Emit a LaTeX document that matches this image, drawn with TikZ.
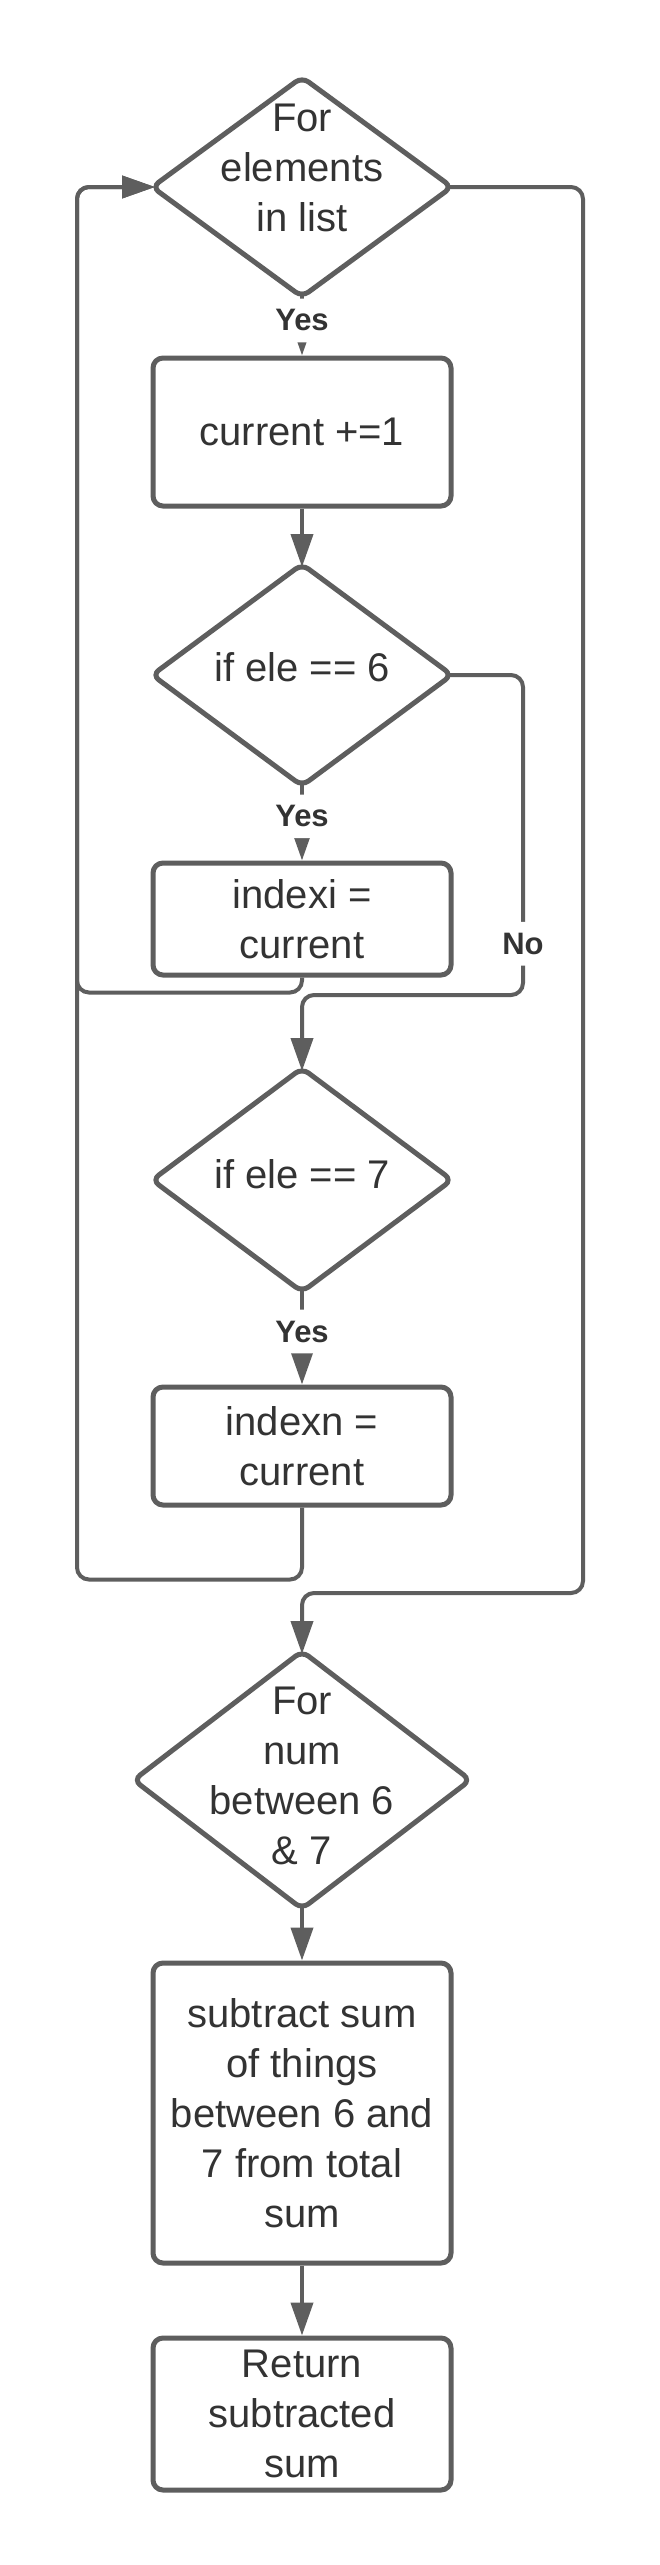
\documentclass[tikz,border=0pt]{standalone}
\usepackage{fontspec}
\setmainfont{Liberation Sans}
\usepackage{tikz}
\usetikzlibrary{shapes.geometric}
\usetikzlibrary{arrows.meta}
\definecolor{linegray}{HTML}{5E5E5E}
\definecolor{textgray}{HTML}{333333}

\begin{document}
\begin{tikzpicture}[x=1pt, y=-1pt,
    decision/.style={diamond, draw=linegray, line width=5pt, rounded corners=8pt,
        inner sep=0pt, outer sep=-2pt, minimum width=298pt},
    process/.style={rectangle, draw=linegray, line width=5pt, rounded corners=10pt,
        minimum width=298pt, inner sep=0pt, align=center, text=textgray,
        font=\fontsize{40}{50}\selectfont},
    dtext/.style={align=center, inner sep=0pt, text=textgray,
        font=\fontsize{40}{50}\selectfont},
    flow/.style={draw=linegray, line width=4pt, rounded corners=12pt,
        -{Triangle[length=33pt, width=22pt]}},
    lbl/.style={fill=white, inner xsep=4pt, inner ysep=11pt, text=textgray,
        font=\bfseries\fontsize{31}{36}\selectfont}]

                  % Page
                  \fill[white] (0,0) rectangle (660,2565);
                  \useasboundingbox (0,0) rectangle (660,2565);

                  % Define coordinates
                  \coordinate (railL) at (77,187);
                  \coordinate (noTurn) at (523,995);
                  \coordinate (exitTurn) at (583,1593);

                  % Draw the shapes
                  \node[decision, minimum height=218pt] (loop) at (302,187) {};
                  \node[dtext] (loopText) at (302,168) {For\\elements\\in list};
                  \node[process, minimum height=148pt] (incr) at (302,432) {current +=1};
                  \node[decision, minimum height=220pt] (isSix) at (302,675) {};
                  \node[dtext] (isSixText) at (302,667) {if ele == 6};
                  \node[process, minimum height=112pt] (setI) at (302,919) {indexi =\\current};
                  \node[decision, minimum height=222pt] (isSeven) at (302,1180) {};
                  \node[dtext] (isSevenText) at (302,1174) {if ele == 7};
                  \node[process, minimum height=118pt] (setN) at (302,1446) {indexn =\\current};
                  \node[decision, minimum width=335pt, minimum height=256pt] (between) at (302,1780) {};
                  \node[dtext] (betweenText) at (302,1776) {For\\num\\between 6\\\& 7};
                  \node[process, minimum height=300pt] (subtract) at (302,2113)
                      {subtract sum\\of things\\between 6 and\\7 from total\\sum};
                  \node[process, minimum height=152pt] (result) at (302,2414) {Return\\subtracted\\sum};

                  % Draw the connectors
                  \draw[flow] (loop.south) -- node[lbl, pos=0.43] (yesLoop) {Yes} (incr.north);
                  \draw[flow] (incr.south) -- (isSix.north);
                  \draw[flow] (isSix.south) -- node[lbl, pos=0.43] (yesSix) {Yes} (setI.north);
                  \draw[flow] (setI.south) -- ++(0,15) -| (railL) -- (loop.west);
                  \draw[flow] (isSix.east) -| node[lbl, pos=0.92] (noSix) {No} (noTurn) -| (isSeven.north);
                  \draw[flow] (isSeven.south) -- node[lbl, pos=0.445] (yesSeven) {Yes} (setN.north);
                  \draw[flow] (setN.south) -- ++(0,72) -| (railL) -- (loop.west);
                  \draw[flow] (loop.east) -| (exitTurn) -| (between.north);
                  \draw[flow] (between.south) -- (subtract.north);
                  \draw[flow] (subtract.south) -- (result.north);

              \end{tikzpicture}
\end{document}
